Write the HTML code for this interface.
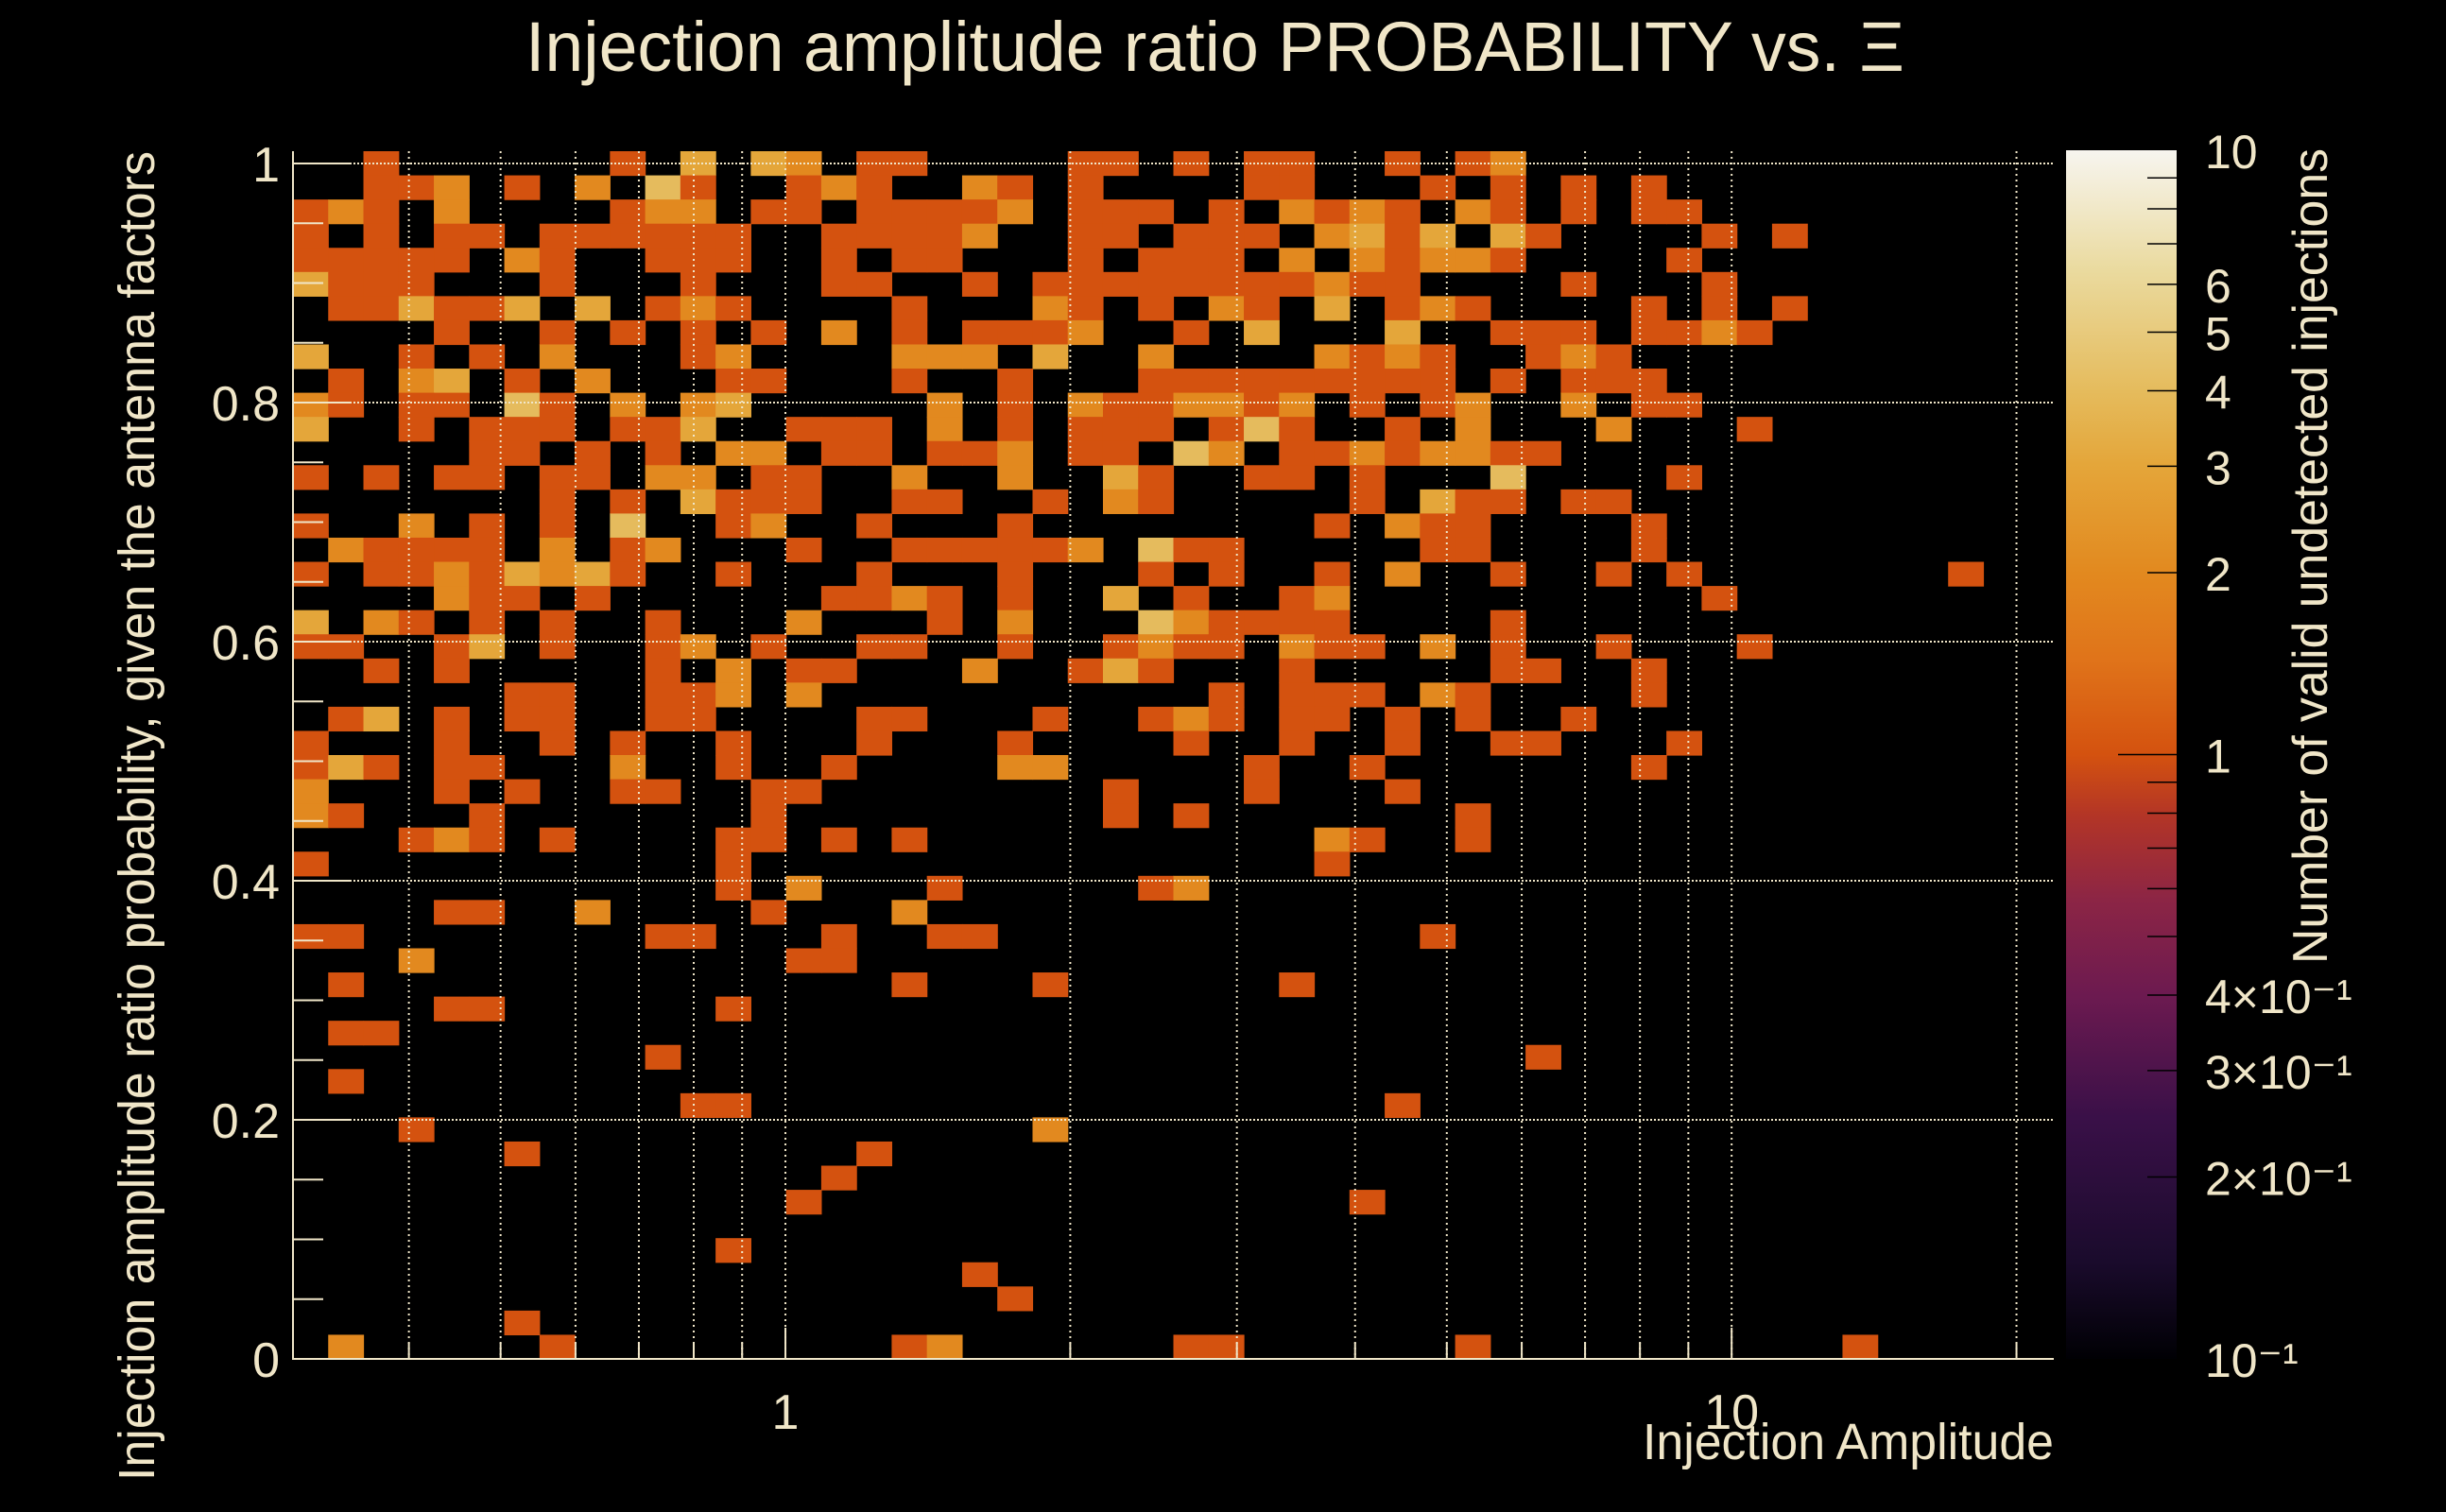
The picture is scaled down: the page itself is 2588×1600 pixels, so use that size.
<!DOCTYPE html>
<html><head><meta charset="utf-8"><style>
html,body{margin:0;padding:0;background:#000;}
svg{display:block;}
text{font-family:"Liberation Sans",sans-serif;fill:#f0e6c8;}
</style></head><body>
<svg id="chart" width="2588" height="1600" viewBox="0 0 2588 1600" xmlns="http://www.w3.org/2000/svg">
<rect x="0" y="0" width="2588" height="1600" fill="#000"/>
<defs>
<linearGradient id="zgrad" x1="0" y1="1" x2="0" y2="0">
<stop offset="0" stop-color="#000004"/>
<stop offset="0.08" stop-color="#1a0b2c"/>
<stop offset="0.2" stop-color="#3a1048"/>
<stop offset="0.3" stop-color="#6c1a50"/>
<stop offset="0.38" stop-color="#8c2545"/>
<stop offset="0.45" stop-color="#b33526"/>
<stop offset="0.5" stop-color="#d4520f"/>
<stop offset="0.58" stop-color="#e0741a"/>
<stop offset="0.65" stop-color="#e2891f"/>
<stop offset="0.74" stop-color="#e4a63a"/>
<stop offset="0.80" stop-color="#e5bb5c"/>
<stop offset="0.9" stop-color="#eada9e"/>
<stop offset="1" stop-color="#f7f5ef"/>
</linearGradient>
</defs>
<g id="cells"></g>
<g id="grid"></g>
<g id="axes"></g>
<text x="556" y="75" font-size="74" textLength="1459" lengthAdjust="spacingAndGlyphs">Injection amplitude ratio PROBABILITY vs.  Ξ</text>
<text x="1738" y="1544" font-size="54" textLength="435" lengthAdjust="spacingAndGlyphs">Injection Amplitude</text>
<text transform="translate(163,1567) rotate(-90)" x="0" y="0" font-size="54" textLength="1407" lengthAdjust="spacingAndGlyphs">Injection amplitude ratio probability, given the antenna factors</text>
<rect x="2186" y="159" width="117" height="1279" fill="url(#zgrad)"/>
<g id="zaxis"></g>
<text transform="translate(2462,1020) rotate(-90)" x="0" y="0" font-size="52" textLength="863" lengthAdjust="spacingAndGlyphs">Number of valid undetected injections</text>
</svg>
<script>
// ---- data ----
const xMin = 0.3017, xMax = 21.9;     // Injection Amplitude range (log)
const yMin = 0, yMax = 1.0103;        // probability range
const nXBins = 50, nYBins = 50;
const xTickValues = [1, 10];
const xTickLabels = ["1", "10"];
const yTickValues = [0, 0.2, 0.4, 0.6, 0.8, 1];
const yTickLabels = ["0", "0.2", "0.4", "0.6", "0.8", "1"];
const zTickValues = [10, 6, 5, 4, 3, 2, 1, 0.4, 0.3, 0.2, 0.1];
const zTickLabels = ["10", "6", "5", "4", "3", "2", "1", "4×10⁻¹", "3×10⁻¹", "2×10⁻¹", "10⁻¹"];
// rows from top (y bin 49) to bottom (y bin 0): "xbin:count ..."
const cellRows = [
"2:1 9:1 11:3 13:3 14:2 16:1 17:1 22:1 23:1 25:1 27:1 28:1 31:1 33:1 34:2",
"2:1 3:1 4:2 6:1 8:2 10:4 11:1 14:1 15:2 16:1 19:2 20:1 22:1 27:1 28:1 32:1 34:1 36:1 38:1",
"0:1 1:2 2:1 4:2 9:1 10:2 11:2 13:1 14:1 16:1 17:1 18:1 19:1 20:2 22:1 23:1 24:1 26:1 28:2 29:1 30:2 31:1 33:2 34:1 36:1 38:1 39:1",
"0:1 2:1 4:1 5:1 7:1 8:1 9:1 10:1 11:1 12:1 15:1 16:1 17:1 18:1 19:2 22:1 23:1 25:1 26:1 27:1 29:2 30:3 31:1 32:3 34:3 35:1 40:1 42:1",
"0:1 1:1 2:1 3:1 4:1 6:2 7:1 10:1 11:1 12:1 15:1 17:1 18:1 22:1 24:1 25:1 26:1 28:2 30:2 31:1 32:2 33:2 34:1 39:1",
"0:3 1:1 2:1 3:1 7:1 11:1 15:1 16:1 19:1 21:1 22:1 23:1 24:1 25:1 26:1 27:1 28:1 29:2 30:1 31:1 36:1 40:1",
"1:1 2:1 3:3 4:1 5:1 6:3 8:3 10:1 11:2 12:1 17:1 21:2 22:1 24:1 26:2 27:1 29:3 31:1 32:2 33:1 38:1 40:1 42:1",
"4:1 7:1 9:1 11:1 13:1 15:2 17:1 19:1 20:1 21:1 22:2 25:1 27:3 31:3 34:1 35:1 36:1 38:1 39:1 40:2 41:1",
"0:3 3:1 5:1 7:2 11:1 12:2 17:2 18:2 19:2 21:3 24:2 29:2 30:1 31:2 32:1 35:1 36:2 37:1",
"1:1 3:2 4:3 6:1 8:2 12:1 13:1 17:1 20:1 24:1 25:1 26:1 27:1 28:1 29:1 30:1 31:1 32:1 34:1 36:1 37:1 38:1",
"0:2 1:1 3:1 4:1 6:4 7:1 9:2 11:2 12:3 18:2 20:1 22:2 23:1 24:1 25:2 26:2 27:1 28:2 30:1 32:1 33:2 36:2 38:1 39:1",
"0:3 3:1 5:1 6:1 7:1 9:1 10:1 11:3 14:1 15:1 16:1 18:2 20:1 22:1 23:1 24:1 26:1 27:4 28:1 31:1 33:2 37:2 41:1",
"5:1 6:1 8:1 10:1 12:2 13:2 15:1 16:1 18:1 19:1 20:2 22:1 23:1 25:4 26:2 28:1 29:1 30:2 31:1 32:2 33:2 34:1 35:1",
"0:1 2:1 4:1 5:1 7:1 8:1 10:2 11:2 13:1 14:1 17:2 20:2 23:3 24:1 27:1 28:1 30:1 34:4 39:1",
"7:1 9:1 11:3 12:1 13:1 14:1 17:1 18:1 21:1 23:2 24:1 30:1 32:3 33:1 34:1 36:1 37:1",
"0:1 3:2 5:1 7:1 9:4 12:1 13:2 16:1 20:1 29:1 31:2 32:1 33:1 38:1",
"1:2 2:1 3:1 4:1 5:1 7:2 9:1 10:2 14:1 17:1 18:1 19:1 20:1 21:1 22:2 24:4 25:1 26:1 32:1 33:1 38:1",
"0:1 2:1 3:1 4:2 5:1 6:3 7:2 8:3 9:1 12:1 16:1 20:1 24:1 26:1 29:1 31:2 34:1 37:1 39:1 47:1",
"4:2 5:1 6:1 8:1 15:1 16:1 17:2 18:1 20:1 23:3 25:1 28:1 29:2 40:1",
"0:3 2:2 3:1 5:1 7:1 10:1 14:2 18:1 20:2 24:4 25:2 26:1 27:1 28:1 29:1 34:1",
"0:1 1:1 4:1 5:3 7:1 10:1 11:2 13:1 16:1 17:1 20:1 23:1 24:2 25:1 26:1 28:2 29:1 30:1 32:2 34:1 37:1 41:1",
"2:1 4:1 10:1 12:2 14:1 15:1 19:2 22:1 23:3 24:1 28:1 34:1 35:1 38:1",
"6:1 7:1 10:1 11:1 12:2 14:2 26:1 28:1 29:1 30:1 32:2 33:1 38:1",
"1:1 2:3 4:1 6:1 7:1 10:1 11:1 16:1 17:1 21:1 24:1 25:2 26:1 28:1 29:1 31:1 33:1 36:1",
"0:1 4:1 7:1 9:1 12:1 16:1 20:1 25:1 28:1 31:1 34:1 35:1 39:1",
"0:1 1:3 2:1 4:1 5:1 9:2 12:1 15:1 20:2 21:2 27:1 30:1 38:1",
"0:2 4:1 6:1 9:1 10:1 13:1 14:1 23:1 27:1 31:1",
"0:2 1:1 5:1 13:1 23:1 25:1 33:1",
"3:1 4:2 5:1 7:1 12:1 13:1 15:1 17:1 29:2 30:1 33:1",
"0:1 12:1 29:1",
"12:1 14:2 18:1 24:1 25:2",
"4:1 5:1 8:2 13:1 17:2",
"0:1 1:1 10:1 11:1 15:1 18:1 19:1 32:1",
"3:2 14:1 15:1",
"1:1 17:1 21:1 28:1",
"4:1 5:1 12:1",
"1:1 2:1",
"10:1 35:1",
"1:1",
"11:1 12:1 31:1",
"3:1 21:2",
"6:1 16:1",
"15:1",
"14:1 30:1",
"",
"12:1",
"19:1",
"20:1",
"6:1",
"1:2 7:1 17:1 18:2 25:1 26:1 33:1 44:1"
];

// ---- layout ----
const PL = 310, PR = 2173, PT = 160, PB = 1438;
const CB_X = 2186, CB_W = 117, CB_T = 159, CB_B = 1438;
const NS = "http://www.w3.org/2000/svg";
const cream = "#f0e6c8";

function xScale(v){ return PL + (Math.log10(v) - Math.log10(xMin)) / (Math.log10(xMax) - Math.log10(xMin)) * (PR - PL); }
function yScale(v){ return PB - (v - yMin) / (yMax - yMin) * (PB - PT); }
function zScale(v){ return CB_B - (Math.log10(v) + 1) / 2 * (CB_B - CB_T); }
function xEdge(i){ return xMin * Math.pow(xMax / xMin, i / nXBins); }
function yEdge(j){ return yMin + (yMax - yMin) * j / nYBins; }

const stops = [[0,[0,0,4]],[0.08,[26,11,44]],[0.2,[58,16,72]],[0.3,[108,26,80]],[0.38,[140,37,69]],[0.45,[179,53,38]],[0.5,[212,82,15]],[0.58,[224,116,26]],[0.65,[226,137,31]],[0.74,[228,166,58]],[0.8,[229,187,92]],[0.9,[234,218,158]],[1,[247,245,239]]];
function zColor(v){
  let t = (Math.log10(v) + 1) / 2; t = Math.max(0, Math.min(1, t));
  for (let k = 1; k < stops.length; k++){
    if (t <= stops[k][0]){
      const a = stops[k-1], b = stops[k], f = (t - a[0]) / (b[0] - a[0]);
      const c = a[1].map((x, i) => Math.round(x + (b[1][i] - x) * f));
      return "rgb(" + c.join(",") + ")";
    }
  }
  return "rgb(247,245,239)";
}
function mk(tag, attrs, parent){
  const el = document.createElementNS(NS, tag);
  for (const k in attrs) el.setAttribute(k, attrs[k]);
  parent.appendChild(el);
  return el;
}

// ---- cells ----
const gCells = document.getElementById("cells");
cellRows.forEach((row, r) => {
  const j = nYBins - 1 - r;
  row.split(" ").filter(s => s).forEach(tok => {
    const [iStr, cStr] = tok.split(":");
    const i = +iStr, c = +cStr;
    const x0 = xScale(xEdge(i)), x1 = xScale(xEdge(i + 1));
    const y1 = yScale(yEdge(j)), y0 = yScale(yEdge(j + 1));
    const el = mk("rect", {x: x0.toFixed(2), y: y0.toFixed(2), width: (x1 - x0 + 0.6).toFixed(2), height: (y1 - y0 + 0.6).toFixed(2), fill: zColor(c)}, gCells);
    
    
  });
});

// ---- grid ----
const gGrid = document.getElementById("grid");
const xGridVals = [0.4,0.5,0.6,0.7,0.8,0.9,1,2,3,4,5,6,7,8,9,10,20];
xGridVals.forEach(v => {
  const x = xScale(v);
  const el = mk("line", {x1: x, x2: x, y1: PT, y2: PB, stroke: cream, "stroke-width": 2, "stroke-dasharray": "2 4"}, gGrid);
  
  
});
yTickValues.forEach(v => {
  const y = yScale(v);
  const el = mk("line", {x1: PL, x2: PR, y1: y, y2: y, stroke: cream, "stroke-width": 2, "stroke-dasharray": "2 2"}, gGrid);
  
  
});

// ---- axes ----
const gAx = document.getElementById("axes");
let el;
el = mk("line", {x1: PL, x2: PL, y1: PT, y2: PB + 1, stroke: cream, "stroke-width": 2}, gAx);


el = mk("line", {x1: PL, x2: PR, y1: PB, y2: PB, stroke: cream, "stroke-width": 2}, gAx);


for (let k = 0; k <= 20; k++){
  const v = k * 0.05, y = yScale(v), major = (k % 4 === 0);
  el = mk("line", {x1: PL, x2: PL + (major ? 62 : 32), y1: y, y2: y, stroke: cream, "stroke-width": 2}, gAx);
  
  
}
yTickValues.forEach((v, i) => {
  const t = mk("text", {x: 296, y: yScale(v) + 19, "font-size": 52, "text-anchor": "end"}, gAx);
  t.textContent = yTickLabels[i];
  
  
});
xGridVals.forEach(v => {
  const x = xScale(v), major = (v === 1 || v === 10);
  el = mk("line", {x1: x, x2: x, y1: PB, y2: PB - (major ? 33 : 17), stroke: cream, "stroke-width": 2}, gAx);
  
  
});
xTickValues.forEach((v, i) => {
  const t = mk("text", {x: xScale(v), y: 1512, "font-size": 52, "text-anchor": "middle"}, gAx);
  t.textContent = xTickLabels[i];
  
  
});

// ---- colorbar axis ----
const gZ = document.getElementById("zaxis");
const zMinor = [0.2,0.3,0.4,0.5,0.6,0.7,0.8,0.9,1,2,3,4,5,6,7,8,9];
zMinor.forEach(v => {
  const y = zScale(v);
  el = mk("line", {x1: CB_X + CB_W, x2: CB_X + CB_W - (v === 1 ? 62 : 31), y1: y, y2: y, stroke: "#000", "stroke-width": 1.5}, gZ);
  
  
});
zTickValues.forEach((v, i) => {
  const t = mk("text", {x: 2333, y: zScale(v) + 19, "font-size": 50}, gZ);
  t.textContent = zTickLabels[i];
  
  
});
</script>
</body></html>
